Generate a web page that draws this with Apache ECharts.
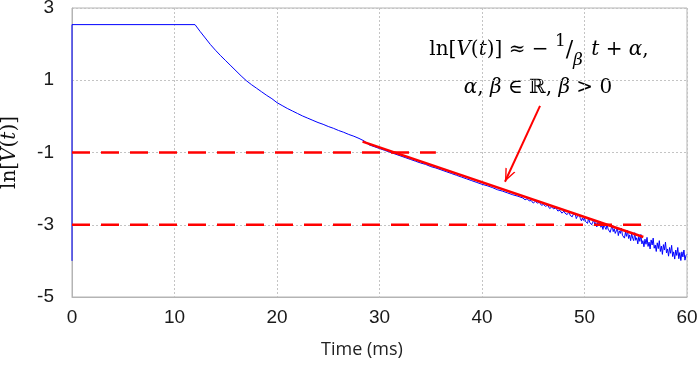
<!DOCTYPE html>
<html>
<head>
<meta charset="utf-8">
<script src="https://cdn.jsdelivr.net/npm/echarts@6/dist/echarts.min.js"></script>
<style>html,body{margin:0;padding:0;background:#fff}#c{width:700px;height:365px}</style>
</head>
<body>
<div id="c"></div>
<script>
// ---- data ----
var xTicks = [0, 10, 20, 30, 40, 50, 60];
var yTicks = [-5, -3, -1, 1, 3];

// measured ln[V(t)] trace
var timeMs = [
  0, 0, 12.0, 12.5, 13.0, 13.5, 14.0, 14.5, 15.0, 15.5, 16.0, 16.5, 17.0, 17.5, 18.0, 18.5, 19.0, 19.5,
  20.0, 20.5, 21.0, 21.5, 22.0, 22.5, 23.0, 23.5, 24.0, 24.5, 25.0, 25.5, 26.0, 26.5, 27.0, 27.5, 28.0, 28.5,
  29.0, 29.5, 30.0, 30.5, 31.0, 31.5, 32.0, 32.5, 33.0, 33.5, 34.0, 34.5, 35.0, 35.5, 36.0, 36.5, 37.0, 37.5,
  38.0, 38.5, 39.0, 39.5, 40.0, 40.5, 41.0, 41.5, 42.0, 42.5, 43.0, 43.5,
  44.0, 44.2, 44.4, 44.6, 44.8, 45.0, 45.2, 45.4, 45.6, 45.8, 46.0, 46.2, 46.4, 46.6, 46.8, 47.0, 47.2, 47.4, 47.6, 47.8,
  48.0, 48.1, 48.2, 48.3, 48.4, 48.5, 48.6, 48.7, 48.8, 48.9, 49.0, 49.1, 49.2, 49.3, 49.4, 49.5, 49.6, 49.7, 49.8, 49.9,
  50.0, 50.1, 50.2, 50.3, 50.4, 50.5, 50.6, 50.7, 50.8, 50.9, 51.0, 51.1, 51.2, 51.3, 51.4, 51.5, 51.6, 51.7, 51.8, 51.9,
  52.0, 52.1, 52.2, 52.3, 52.4, 52.5, 52.6, 52.7, 52.8, 52.9, 53.0, 53.1, 53.2, 53.3, 53.4, 53.5, 53.6, 53.7, 53.8, 53.9,
  54.0, 54.1, 54.2, 54.3, 54.4, 54.5, 54.6, 54.7, 54.8, 54.9, 55.0, 55.1, 55.2, 55.3, 55.4, 55.5, 55.6, 55.7, 55.8, 55.9,
  56.0, 56.1, 56.2, 56.3, 56.4, 56.5, 56.6, 56.7, 56.8, 56.9, 57.0, 57.1, 57.2, 57.3, 57.4, 57.5, 57.6, 57.7, 57.8, 57.9,
  58.0, 58.1, 58.2, 58.3, 58.4, 58.5, 58.6, 58.7, 58.8, 58.9, 59.0, 59.1, 59.2, 59.3, 59.4, 59.5, 59.6, 59.7, 59.8, 59.9, 60.0
];
var lnV = [
  -4.0, 2.54, 2.54, 2.35, 2.17, 1.99, 1.83, 1.68, 1.54, 1.40, 1.26, 1.12, 0.99, 0.88, 0.78, 0.68, 0.58, 0.49,
  0.38, 0.30, 0.22, 0.15, 0.08, 0.01, -0.05, -0.11, -0.17, -0.22, -0.28, -0.33, -0.39, -0.44, -0.50, -0.55, -0.61, -0.68,
  -0.79, -0.84, -0.89, -0.94, -0.99, -1.04, -1.09, -1.14, -1.19, -1.24, -1.29, -1.33, -1.39, -1.43, -1.48, -1.53, -1.58, -1.63,
  -1.68, -1.73, -1.78, -1.83, -1.88, -1.92, -1.97, -2.03, -2.07, -2.12, -2.17, -2.21,
  -2.26, -2.31, -2.28, -2.34, -2.33, -2.40, -2.35, -2.40, -2.38, -2.46, -2.44, -2.49, -2.46, -2.55, -2.51, -2.56, -2.53, -2.62, -2.60, -2.68,
  -2.62, -2.68, -2.63, -2.72, -2.68, -2.64, -2.74, -2.70, -2.78, -2.71, -2.76, -2.71, -2.83, -2.77, -2.82, -2.73, -2.83, -2.89, -2.81, -2.88,
  -2.81, -2.91, -2.87, -2.96, -2.81, -2.93, -2.89, -3.00, -2.93, -2.86, -3.00, -2.94, -3.06, -2.94, -3.02, -2.90, -3.07, -3.01, -3.13, -2.99,
  -3.07, -3.13, -2.98, -3.12, -3.07, -3.21, -3.11, -3.02, -3.19, -3.11, -3.24, -3.17, -3.08, -3.30, -3.17, -3.24, -3.09, -3.29, -3.24, -3.37,
  -3.20, -3.32, -3.16, -3.38, -3.28, -3.44, -3.24, -3.37, -3.44, -3.22, -3.43, -3.36, -3.53, -3.32, -3.46, -3.27, -3.53, -3.44, -3.61, -3.40,
  -3.54, -3.35, -3.60, -3.48, -3.67, -3.42, -3.56, -3.37, -3.65, -3.56, -3.74, -3.50, -3.66, -3.44, -3.74, -3.59, -3.82, -3.55, -3.70, -3.48,
  -3.78, -3.67, -3.87, -3.63, -3.79, -3.57, -3.88, -3.75, -3.95, -3.70, -3.85, -3.63, -3.94, -3.77, -3.99, -3.75, -3.89, -3.70, -3.98, -3.85, -3.82
];

// linear fit segment
var fitT = [28.35, 55.74];
var fitV = [-0.70, -3.34];

// horizontal dashed reference levels
var refLevelA = -1, refEndA = 35.5;
var refLevelB = -3, refEndB = 55.7;

// annotation arrow (from text to fit line)
var arrowFrom = [45.66, 0.29];
var arrowTo = [42.24, -1.81];

function zip(a, b) { return a.map(function (v, i) { return [v, b[i]]; }); }

var chart = echarts.init(document.getElementById('c'), null, {renderer: 'canvas'});
var serif = 'DejaVu Serif, Liberation Serif, serif';

chart.setOption({
  animation: false,
  backgroundColor: '#ffffff',
  grid: {left: 72, right: 13, top: 8, bottom: 68, containLabel: false, outerBoundsMode: 'none',
    show: true, borderColor: '#b4b4b4', borderWidth: 1},
  xAxis: {
    type: 'value', min: xTicks[0], max: xTicks[xTicks.length - 1], interval: 10,
    name: 'Time (ms)', nameLocation: 'middle', nameGap: 44,
    nameTextStyle: {fontFamily: 'Open Sans', fontSize: 18, color: '#222', padding: [0, 35, 0, 0]},
    axisLine: {show: true, onZero: false, lineStyle: {color: '#b4b4b4', width: 1}},
    axisTick: {show: false},
    axisLabel: {fontFamily: 'Liberation Sans', fontSize: 19, color: '#1a1a1a', margin: 11},
    splitLine: {show: true, lineStyle: {color: '#c4c4c4', type: [2, 2], width: 1}}
  },
  yAxis: {
    type: 'value', min: yTicks[0], max: yTicks[yTicks.length - 1], interval: 2,
    name: 'ln[{it|V}({it|t})]', nameLocation: 'middle', nameGap: 52,
    nameTextStyle: {fontFamily: serif, fontSize: 20, color: '#111',
      rich: {it: {fontFamily: serif, fontSize: 20, fontStyle: 'italic', color: '#111'}}},
    axisLine: {show: true, onZero: false, lineStyle: {color: '#b4b4b4', width: 1}},
    axisTick: {show: false},
    axisLabel: {fontFamily: 'Liberation Sans', fontSize: 19, color: '#1a1a1a', margin: 18},
    splitLine: {show: true, lineStyle: {color: '#c4c4c4', type: [2, 2], width: 1}}
  },
  series: [
    {
      type: 'line', data: zip(timeMs, lnV), showSymbol: false, symbol: 'none',
      lineStyle: {color: '#0000ff', width: 1}, z: 2
    },
    {
      type: 'line', data: [[0, refLevelA], [refEndA, refLevelA]], symbol: 'none',
      lineStyle: {color: '#ff0000', width: 2.5, type: [18, 11]}, z: 3
    },
    {
      type: 'line', data: [[0, refLevelB], [refEndB, refLevelB]], symbol: 'none',
      lineStyle: {color: '#ff0000', width: 2.5, type: [18, 11]}, z: 3
    },
    {
      type: 'line', data: zip(fitT, fitV), symbol: 'none',
      lineStyle: {color: '#ff0000', width: 2.5}, z: 4,
      markLine: {
        silent: true,
        symbol: ['none', 'path://M5,0 L5.01,0 L5,0.01 Z M5,12 L10.5,24 L9,24 L5,15.2 L1,24 L-0.5,24 Z'],
        symbolSize: [11, 26],
        label: {show: false},
        lineStyle: {color: '#ff0000', width: 2, type: 'solid'},
        data: [[{coord: arrowFrom}, {coord: arrowTo}]]
      }
    }
  ],
  graphic: [
    {
      type: 'text',
      style: {
        x: 539, y: 31, align: 'center', verticalAlign: 'top',
        text: '{n|ln[}{i|V}{n|(}{i|t}{n|)] ≈ − }{sup|1}{sl|/}{sub|β}{i| t}{n| + }{i|α}{n|,}',
        rich: {
          n: {fontFamily: serif, fontSize: 20, color: '#111', lineHeight: 38},
          i: {fontFamily: serif, fontSize: 20, fontStyle: 'italic', color: '#111', lineHeight: 38},
          sup: {fontFamily: serif, fontSize: 17, color: '#111', verticalAlign: 'top', padding: [2, 0, 0, 0]},
          sl: {fontFamily: serif, fontSize: 22, color: '#111', lineHeight: 38},
          sub: {fontFamily: serif, fontSize: 17, fontStyle: 'italic', color: '#111', verticalAlign: 'bottom', padding: [0, 2, 0, 0]}
        }
      }
    },
    {
      type: 'text',
      style: {
        x: 538, y: 88, align: 'center', verticalAlign: 'middle',
        text: '{i|α}{n|, }{i|β}{n| ∈ ℝ, }{i|β}{n| > 0}',
        rich: {
          n: {fontFamily: serif, fontSize: 20, color: '#111'},
          i: {fontFamily: serif, fontSize: 20, fontStyle: 'italic', color: '#111'}
        }
      }
    }
  ]
});
</script>
</body>
</html>
